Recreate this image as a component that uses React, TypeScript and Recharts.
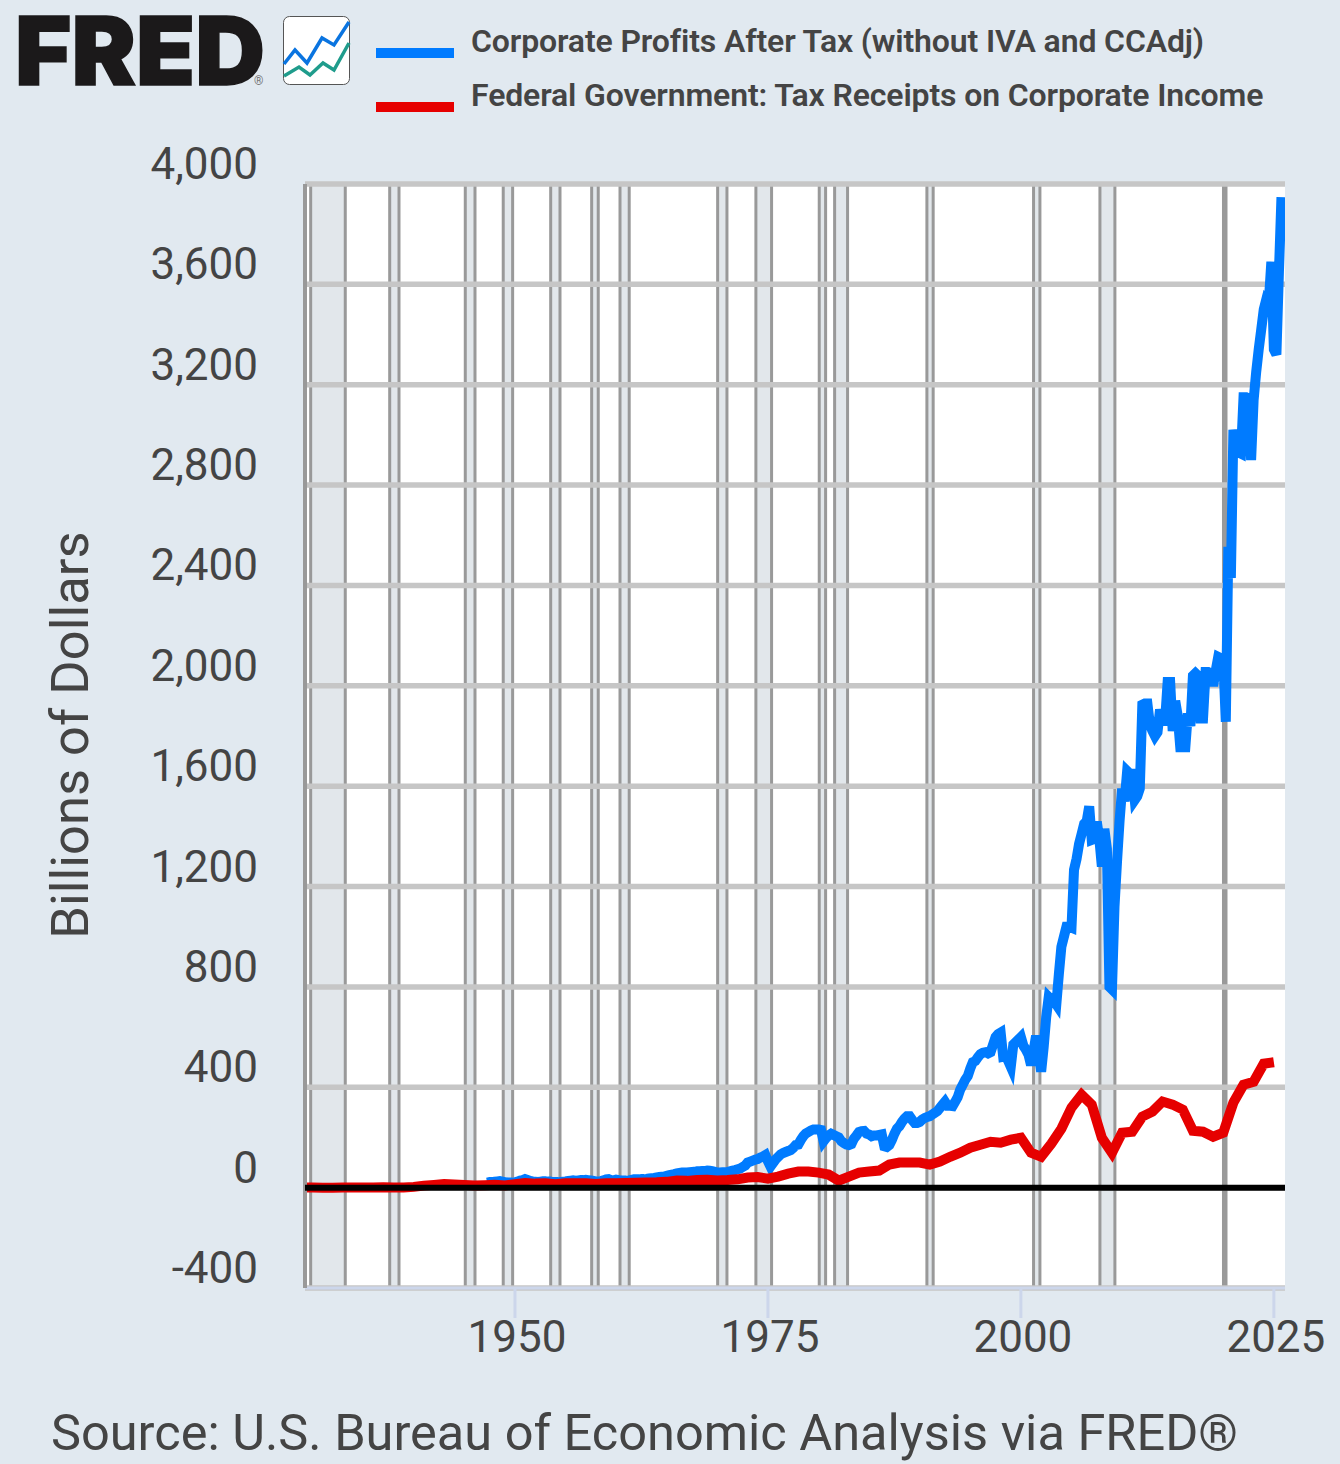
import { CartesianGrid, Line, LineChart, ReferenceArea, ReferenceLine, XAxis, YAxis } from "recharts";

const yTicks = [-400, 0, 400, 800, 1200, 1600, 2000, 2400, 2800, 3200, 3600, 4000];
const xTicks = [1950, 1975, 2000, 2025];

const profitsLabel = "Corporate Profits After Tax (without IVA and CCAdj)";
const receiptsLabel = "Federal Government: Tax Receipts on Corporate Income";
const sourceText = "Source: U.S. Bureau of Economic Analysis via FRED®";

// quarterly, first value is 1947 Q2
const profitsStart = 1947.25;
const profits = [
  20, 22, 22,
  24, 25, 26, 24,
  22, 20, 20, 20,
  21, 24, 28, 30,
  34, 31, 27, 25,
  24, 23, 24, 25,
  25, 24, 24, 22,
  22, 22, 23, 24,
  25, 27, 28, 29,
  28, 29, 30, 30,
  31, 30, 29, 27,
  24, 25, 26, 29,
  33, 34, 30, 29,
  32, 30, 28, 28,
  28, 29, 31, 33,
  33, 33, 34, 34,
  35, 37, 38, 39,
  41, 42, 43, 44,
  47, 50, 52, 54,
  57, 59, 60, 60,
  60, 61, 62, 63,
  65, 65, 66, 66,
  68, 67, 66, 63,
  60, 60, 61, 61,
  62, 65, 68, 70,
  73, 76, 82, 88,
  100, 104, 108, 112,
  114, 120, 124, 130,
  105, 84, 98, 112,
  122, 132, 138, 142,
  146, 150, 158, 170,
  172, 190, 205, 216,
  222, 228, 232, 232,
  232, 230, 185, 198,
  208, 215, 210, 205,
  200, 185, 178, 172,
  170, 174, 195, 208,
  222, 225, 226, 215,
  212, 205, 208, 208,
  210, 212, 165, 162,
  170, 190, 215, 235,
  245, 262, 275, 285,
  285, 270, 258, 258,
  262, 272, 278, 282,
  285, 292, 298, 305,
  318, 330, 342, 326,
  326, 325, 342, 360,
  390, 410, 430, 445,
  475, 500, 505, 520,
  532, 538, 540, 535,
  540, 570, 600, 612,
  618, 522, 524, 505,
  482, 570, 580, 590,
  600, 565, 550, 530,
  488, 545, 605, 540,
  462, 560, 680, 760,
  750, 745, 730, 850,
  960, 1000, 1040, 1040,
  1036, 1267, 1310, 1370,
  1410, 1450, 1460, 1520,
  1386, 1390, 1458, 1390,
  1280, 1430, 1350, 800,
  790, 1120, 1300, 1460,
  1590, 1540, 1660, 1650,
  1650, 1545, 1560, 1590,
  1925, 1930, 1930, 1845,
  1820, 1800, 1815, 1905,
  1860, 1860, 2015, 2015,
  1820, 1940, 1880, 1755,
  1755, 1755, 1890, 1840,
  2040, 2050, 2040, 1870,
  1870, 2055, 2055, 2050,
  2000, 2060, 2115, 2110,
  2100, 1857, 2554, 2430,
  3020, 2960, 2930, 2925,
  3150, 3150, 3145, 2900,
  3140, 3250, 3340, 3420,
  3500, 3540, 3530, 3690,
  3340, 3320, 3650, 3948,
];

// annual, 1929 onward
const receiptsStart = 1929;
const receipts = [
  1, 1, 0, 0, 1, 1, 1, 1, 2, 1, 1, 3,
  8, 11, 14, 13, 11, 9, 10, 11, 9,
  14, 18, 16, 17, 14, 17, 17, 17, 15, 17,
  17, 18, 19, 20, 21, 23, 28, 27, 30, 31,
  28, 30, 33, 40, 42, 36, 44, 56, 64, 64,
  60, 52, 28, 44, 60, 64, 68, 92, 100, 100,
  100, 92, 104, 123, 139, 159, 171, 183, 179, 191,
  199, 139, 123, 175, 235, 319, 370, 331, 199, 139,
  219, 223, 283, 303, 343, 331, 311, 227, 223, 203,
  219, 339, 410, 422, 494, 500,
];

// recession shading, from the picture
const recessions = [
  [1929.81, 1933.23],
  [1937.62, 1938.54],
  [1945.09, 1946.05],
  [1948.84, 1949.77],
  [1953.53, 1954.45],
  [1957.58, 1958.23],
  [1960.38, 1961.29],
  [1970.03, 1970.95],
  [1973.81, 1975.36],
  [1980.07, 1980.7],
  [1981.59, 1982.87],
  [1990.71, 1991.33],
  [2001.25, 2001.88],
  [2007.81, 2009.29],
  [2020.02, 2020.27],
];

const profitsRows = profits.map((y, i) => ({ x: profitsStart + i / 4, y }));
const receiptsRows = receipts.map((y, i) => ({ x: receiptsStart + i, y }));

const font = "Roboto, sans-serif";
const textColor = "#444444";

function YTick(props: any) {
  const v = props.payload.value as number;
  return (
    <text x={258} y={props.y - 5} textAnchor="end" fontFamily={font} fontSize={44} fill={textColor}>
      {v.toLocaleString("en-US")}
    </text>
  );
}

function XTick(props: any) {
  return (
    <text x={props.x + 2} y={1352} textAnchor="middle" fontFamily={font} fontSize={44} fill={textColor}>
      {props.payload.value}
    </text>
  );
}

function YTitle() {
  return (
    <text
      transform="translate(88 735) rotate(-90)"
      textAnchor="middle"
      fontFamily={font}
      fontSize={52.5}
      fill={textColor}
    >
      Billions of Dollars
    </text>
  );
}

function Logo() {
  return (
    <svg width={360} height={100} style={{ position: "absolute", left: 0, top: 0 }}>
      <text
        x={15}
        y={85}
        fontFamily="Inter, Roboto, sans-serif"
        fontWeight={900}
        fontSize={95}
        fill="#1b191a"
        stroke="#1b191a"
        strokeWidth={1.5}
        textLength={250}
        lengthAdjust="spacingAndGlyphs"
      >
        FRED
      </text>
      <text x={254} y={85} fontFamily={font} fontSize={12} fill="#777">
        ®
      </text>
      <rect x={283.5} y={16.5} width={66} height={68} rx={6} fill="#fff" stroke="#555" />
      <polyline points="284,64 295,50 307,63 322,38 334,45 349,22" fill="none" stroke="#0a74e0" strokeWidth={3.5} />
      <polyline points="284,76 299,67 310,75 323,63 334,70 349,43" fill="none" stroke="#1f9c8c" strokeWidth={3.5} />
    </svg>
  );
}

function LegendRow(props: { label: string; color: string; top: number; textTop: number }) {
  return (
    <>
      <div style={{ position: "absolute", left: 376, top: props.top, width: 78, height: 10, background: props.color }} />
      <div
        style={{
          position: "absolute",
          left: 471,
          top: props.textTop,
          fontFamily: font,
          fontWeight: 600,
          fontSize: 32,
          letterSpacing: -0.13,
          lineHeight: "38px",
          color: textColor,
          whiteSpace: "nowrap",
        }}
      >
        {props.label}
      </div>
    </>
  );
}

export default function App() {
  return (
    <div style={{ position: "absolute", left: 0, top: 0, width: 1340, height: 1464, background: "#e1e9f0", overflow: "hidden" }}>
      <Logo />
      <LegendRow label={profitsLabel} color="#007bff" top={48} textTop={22} />
      <LegendRow label={receiptsLabel} color="#e60000" top={102} textTop={76} />
      <LineChart width={1340} height={1464} margin={{ top: 184, right: 55, bottom: 0, left: 0 }}>
        <CartesianGrid horizontal={false} vertical={false} fill="#ffffff" />
        {recessions.map(([a, b]) => (
          <ReferenceArea key={a} x1={a} x2={b} fill="#e2e7eb" fillOpacity={1} stroke="none" />
        ))}
        {recessions.flat().map((x) => (
          <ReferenceLine key={x} x={x} stroke="#999999" strokeWidth={3} />
        ))}
        {yTicks.map((y) => (
          <ReferenceLine key={y} y={y} stroke="#c6c6c6" strokeWidth={5.5} />
        ))}
        <XAxis
          dataKey="x"
          type="number"
          domain={[1929.25, 2026.1]}
          ticks={xTicks}
          allowDataOverflow
          height={176}
          tickSize={30}
          tick={XTick}
          stroke="#ccd6eb"
          strokeWidth={3}
        />
        <YAxis
          type="number"
          domain={[-400, 4000]}
          ticks={yTicks}
          width={305}
          tickLine={false}
          tick={YTick}
          stroke="#999999"
          strokeWidth={4}
          label={{ content: YTitle }}
        />
        <Line data={profitsRows} dataKey="y" name={profitsLabel} stroke="#007bff" strokeWidth={10} dot={false} activeDot={false} isAnimationActive={false} />
        <Line data={receiptsRows} dataKey="y" name={receiptsLabel} stroke="#e60000" strokeWidth={10} dot={false} activeDot={false} isAnimationActive={false} />
        <ReferenceLine y={0} stroke="#000000" strokeWidth={6} zIndex={1000} />
      </LineChart>
      <div
        style={{
          position: "absolute",
          left: 51,
          top: 1405,
          fontFamily: font,
          fontSize: 50.5,
          lineHeight: "56px",
          color: textColor,
          whiteSpace: "nowrap",
        }}
      >
        {sourceText}
      </div>
    </div>
  );
}
